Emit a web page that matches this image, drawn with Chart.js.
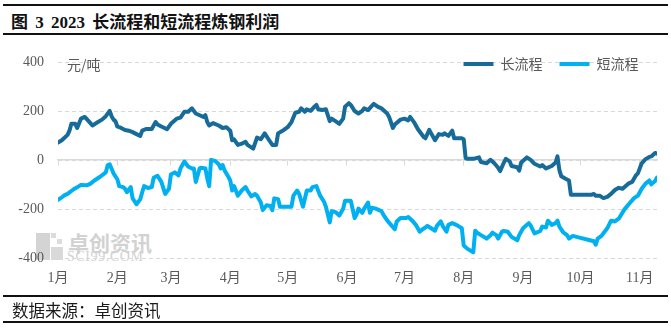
<!DOCTYPE html>
<html>
<head>
<meta charset="utf-8">
<script src="https://cdn.jsdelivr.net/npm/chart.js@4.4.0/dist/chart.umd.min.js"></script>
<style>
html,body{margin:0;padding:0;background:#fff;}
#wrap{position:relative;width:671px;height:330px;overflow:hidden;background:#fff;}
.rule{position:absolute;left:3px;width:665px;height:2px;background:#111;}
#title{position:absolute;left:11px;top:12px;font:bold 17px "Liberation Serif","Noto Sans CJK SC";line-height:21px;color:#111;white-space:nowrap;word-spacing:3px;}
#source{position:absolute;left:12px;top:299px;font:16.5px "Noto Sans CJK SC";line-height:22px;color:#1a1a1a;white-space:nowrap;}
#unit{position:absolute;left:67px;top:54px;font:14px "Noto Sans CJK SC";line-height:20px;color:#595959;white-space:nowrap;}
.wm{position:absolute;color:#d2d2d2;white-space:nowrap;}
.sq{position:absolute;background:#d4d4d4;}
canvas{position:absolute;left:0;top:0;}
</style>
</head>
<body>
<div id="wrap">
  <div class="rule" style="top:4px"></div>
  <div id="title">图 3 2023 长流程和短流程炼钢利润</div>
  <div class="rule" style="top:33px"></div>

  <div class="sq" style="left:36px;top:233px;width:14px;height:27px;"></div>
  <div class="sq" style="left:51px;top:233px;width:5px;height:5px;background:#dcdcdc"></div>
  <div class="sq" style="left:57px;top:239px;width:5px;height:5px;background:#dcdcdc"></div>
  <div class="sq" style="left:51px;top:247px;width:12px;height:13px;background:#d9d9d9"></div>
  <div class="wm" style="left:68px;top:229px;font:bold 21px 'Noto Sans CJK SC';line-height:26px;">卓创资讯</div>
  <div class="wm" style="left:67px;top:249px;font:14px 'Liberation Serif';line-height:15px;letter-spacing:0.6px;">SCI99.COM</div>

  <canvas id="c" width="671" height="330"></canvas>
  <div id="unit">元/吨</div>

  <div class="rule" style="top:295px"></div>
  <div id="source">数据来源：卓创资讯</div>
  <div class="rule" style="top:321px"></div>
</div>
<script>
// ---- data (x = day of year, 0 = 1 Jan 2023) ----
const seriesNames = ['长流程', '短流程'];
const monthLabels = ['1月','2月','3月','4月','5月','6月','7月','8月','9月','10月','11月'];
const monthStartDays = [0,31,59,90,120,151,181,212,243,273,304];
const lastDay = 313;

const longDays = [0,2,5,6,7,9,10,12,14,16,18,20,23,25,27,28,29,30,31,33,35,37,39,41,43,44,46,49,51,52,54,57,59,62,64,66,68,70,72,74,76,77,78,79,81,84,86,88,90,91,92,94,96,98,99,102,104,106,108,110,112,114,115,118,120,122,124,126,127,129,130,132,134,135,136,138,140,142,143,145,147,149,150,152,153,155,157,159,160,162,164,165,167,169,172,173,175,176,179,181,183,184,186,188,191,192,194,195,197,199,201,202,204,206,207,211,212,213,214,217,220,221,224,226,228,230,231,233,234,236,237,240,241,242,245,247,249,252,253,255,258,260,261,262,263,265,267,268,271,279,280,281,283,285,287,289,291,293,295,298,300,302,303,305,307,309,310,312,313];
const longProfit = [71,81,103,120,148,148,131,169,176,159,141,151,165,179,201,179,165,159,137,131,123,120,114,106,99,120,127,127,155,145,137,126,148,169,173,197,197,211,190,183,176,183,155,141,151,141,131,134,120,81,85,62,67,75,62,47,92,85,109,85,62,62,109,123,134,155,193,197,211,197,207,201,218,225,207,204,207,159,169,159,148,169,218,232,225,200,190,201,211,204,221,229,218,211,190,176,131,145,165,169,162,176,155,127,95,89,123,109,81,106,103,109,99,120,89,89,85,8,5,5,11,-8,-13,1,-13,-31,-45,-10,5,-5,-24,-29,-43,-10,11,1,-15,-26,-20,-34,-24,-10,15,-41,-66,-75,-83,-141,-141,-141,-138,-145,-145,-155,-150,-138,-122,-113,-117,-96,-89,-62,-54,-13,4,13,15,29,26];

const shortDays = [0,2,3,5,8,11,12,15,17,19,22,25,26,27,29,31,32,34,35,36,38,39,41,43,44,45,47,49,50,52,54,56,58,59,61,63,64,66,68,70,71,72,74,75,77,78,79,80,82,84,85,86,87,89,90,91,92,94,96,98,99,101,103,104,106,107,109,111,112,113,115,116,122,123,125,126,128,130,132,133,135,137,139,140,142,143,145,147,149,150,153,155,156,157,159,160,162,163,164,166,169,170,172,174,176,177,179,182,183,185,187,189,190,192,193,195,197,198,200,201,203,204,206,207,209,211,212,214,217,218,219,221,224,226,227,229,230,232,233,235,237,240,241,243,246,247,249,252,253,255,256,258,260,261,262,264,266,267,269,273,278,280,281,282,284,287,289,291,293,296,299,301,303,305,307,309,310,312,313];
const shortProfit = [-162,-152,-145,-138,-120,-106,-101,-103,-96,-83,-68,-50,-20,-17,-54,-78,-106,-110,-117,-131,-110,-156,-180,-159,-131,-106,-114,-110,-72,-64,-89,-138,-117,-59,-50,-62,-34,-6,-26,-34,-34,-89,-34,-31,-34,-75,-106,1,-3,-17,-34,-20,-41,-68,-83,-124,-106,-145,-124,-110,-124,-148,-138,-145,-173,-204,-184,-187,-204,-156,-159,-190,-190,-145,-124,-138,-190,-124,-124,-110,-106,-145,-170,-190,-254,-208,-212,-226,-198,-166,-166,-236,-222,-198,-215,-198,-173,-215,-194,-198,-208,-222,-246,-264,-282,-250,-236,-236,-232,-246,-264,-292,-285,-274,-268,-278,-288,-268,-250,-268,-292,-264,-257,-260,-268,-278,-348,-362,-376,-288,-296,-306,-320,-306,-296,-306,-320,-292,-289,-292,-313,-327,-306,-278,-257,-267,-299,-289,-271,-275,-247,-264,-257,-247,-271,-295,-306,-320,-309,-317,-327,-331,-345,-320,-309,-278,-247,-250,-239,-201,-173,-155,-145,-117,-96,-83,-99,-85,-71];

const yTicks = {min: -400, max: 400, step: 200};

// ---- styles ----
const longColor = '#176b99';
const shortColor = '#00b0f0';
const tickColor = '#595959';
const gridColor = '#d9d9d9';
const tickFont = {family: '"Liberation Serif","Noto Sans CJK SC"', size: 14};
const legendFontSize = 14;
const legendPadding = 17;

const setMonthTicks = (s) => { s.ticks = monthStartDays.map(v => ({value: v})); };

const legendPlacer = {
  id: 'legendPlacer',
  afterLayout(chart) {
    const lg = chart.legend;
    if (!lg) return;
    const h = lg.bottom - lg.top;
    const w = lg.right - lg.left;
    const top = chart.chartArea.top + 2 - legendPadding - legendFontSize / 2;
    lg.top = top; lg.bottom = top + h;
    const right = chart.chartArea.right - 1.5;
    lg.right = right; lg.left = right - w;
  }
};

new Chart(document.getElementById('c').getContext('2d'), {
  type: 'line',
  data: {
    datasets: [
      {
        label: seriesNames[0],
        data: longDays.map((d, i) => ({x: d, y: longProfit[i]})),
        borderColor: longColor, backgroundColor: longColor,
        borderWidth: 4, pointRadius: 0, tension: 0,
        borderJoinStyle: 'round', borderCapStyle: 'round'
      },
      {
        label: seriesNames[1],
        data: shortDays.map((d, i) => ({x: d, y: shortProfit[i]})),
        borderColor: shortColor, backgroundColor: shortColor,
        borderWidth: 4, pointRadius: 0, tension: 0,
        borderJoinStyle: 'round', borderCapStyle: 'round'
      }
    ]
  },
  options: {
    responsive: false,
    animation: false,
    devicePixelRatio: 1,
    layout: {padding: {left: 0, right: 14, top: 21, bottom: 31}},
    plugins: {
      legend: {
        position: 'top', align: 'end',
        labels: {
          usePointStyle: true, pointStyle: 'line', pointStyleWidth: 30,
          padding: legendPadding, color: tickColor,
          font: {family: '"Noto Sans CJK SC"', size: legendFontSize}
        }
      },
      tooltip: {enabled: false}
    },
    scales: {
      x: {
        type: 'linear', min: 0, max: lastDay, position: 'bottom',
        grid: {display: false, drawTicks: false},
        border: {display: false},
        afterBuildTicks: setMonthTicks,
        ticks: {
          padding: 12, color: tickColor, font: tickFont,
          maxRotation: 0, autoSkip: false,
          callback: (v) => monthLabels[monthStartDays.indexOf(v)]
        }
      },
      x2: {
        type: 'linear', min: 0, max: lastDay, position: {y: 0},
        grid: {drawOnChartArea: false, drawTicks: true, tickLength: 5, color: gridColor, lineWidth: 1},
        border: {display: true, color: gridColor, width: 1.5},
        afterBuildTicks: setMonthTicks,
        ticks: {display: false}
      },
      y: {
        min: yTicks.min, max: yTicks.max,
        ticks: {stepSize: yTicks.step, padding: 14, color: tickColor, font: tickFont},
        grid: {color: gridColor, drawTicks: false, lineWidth: 1},
        border: {display: false, dash: [4, 3]},
        afterFit: (s) => { s.width = 58; }
      }
    }
  },
  plugins: [legendPlacer]
});
</script>
</body>
</html>
